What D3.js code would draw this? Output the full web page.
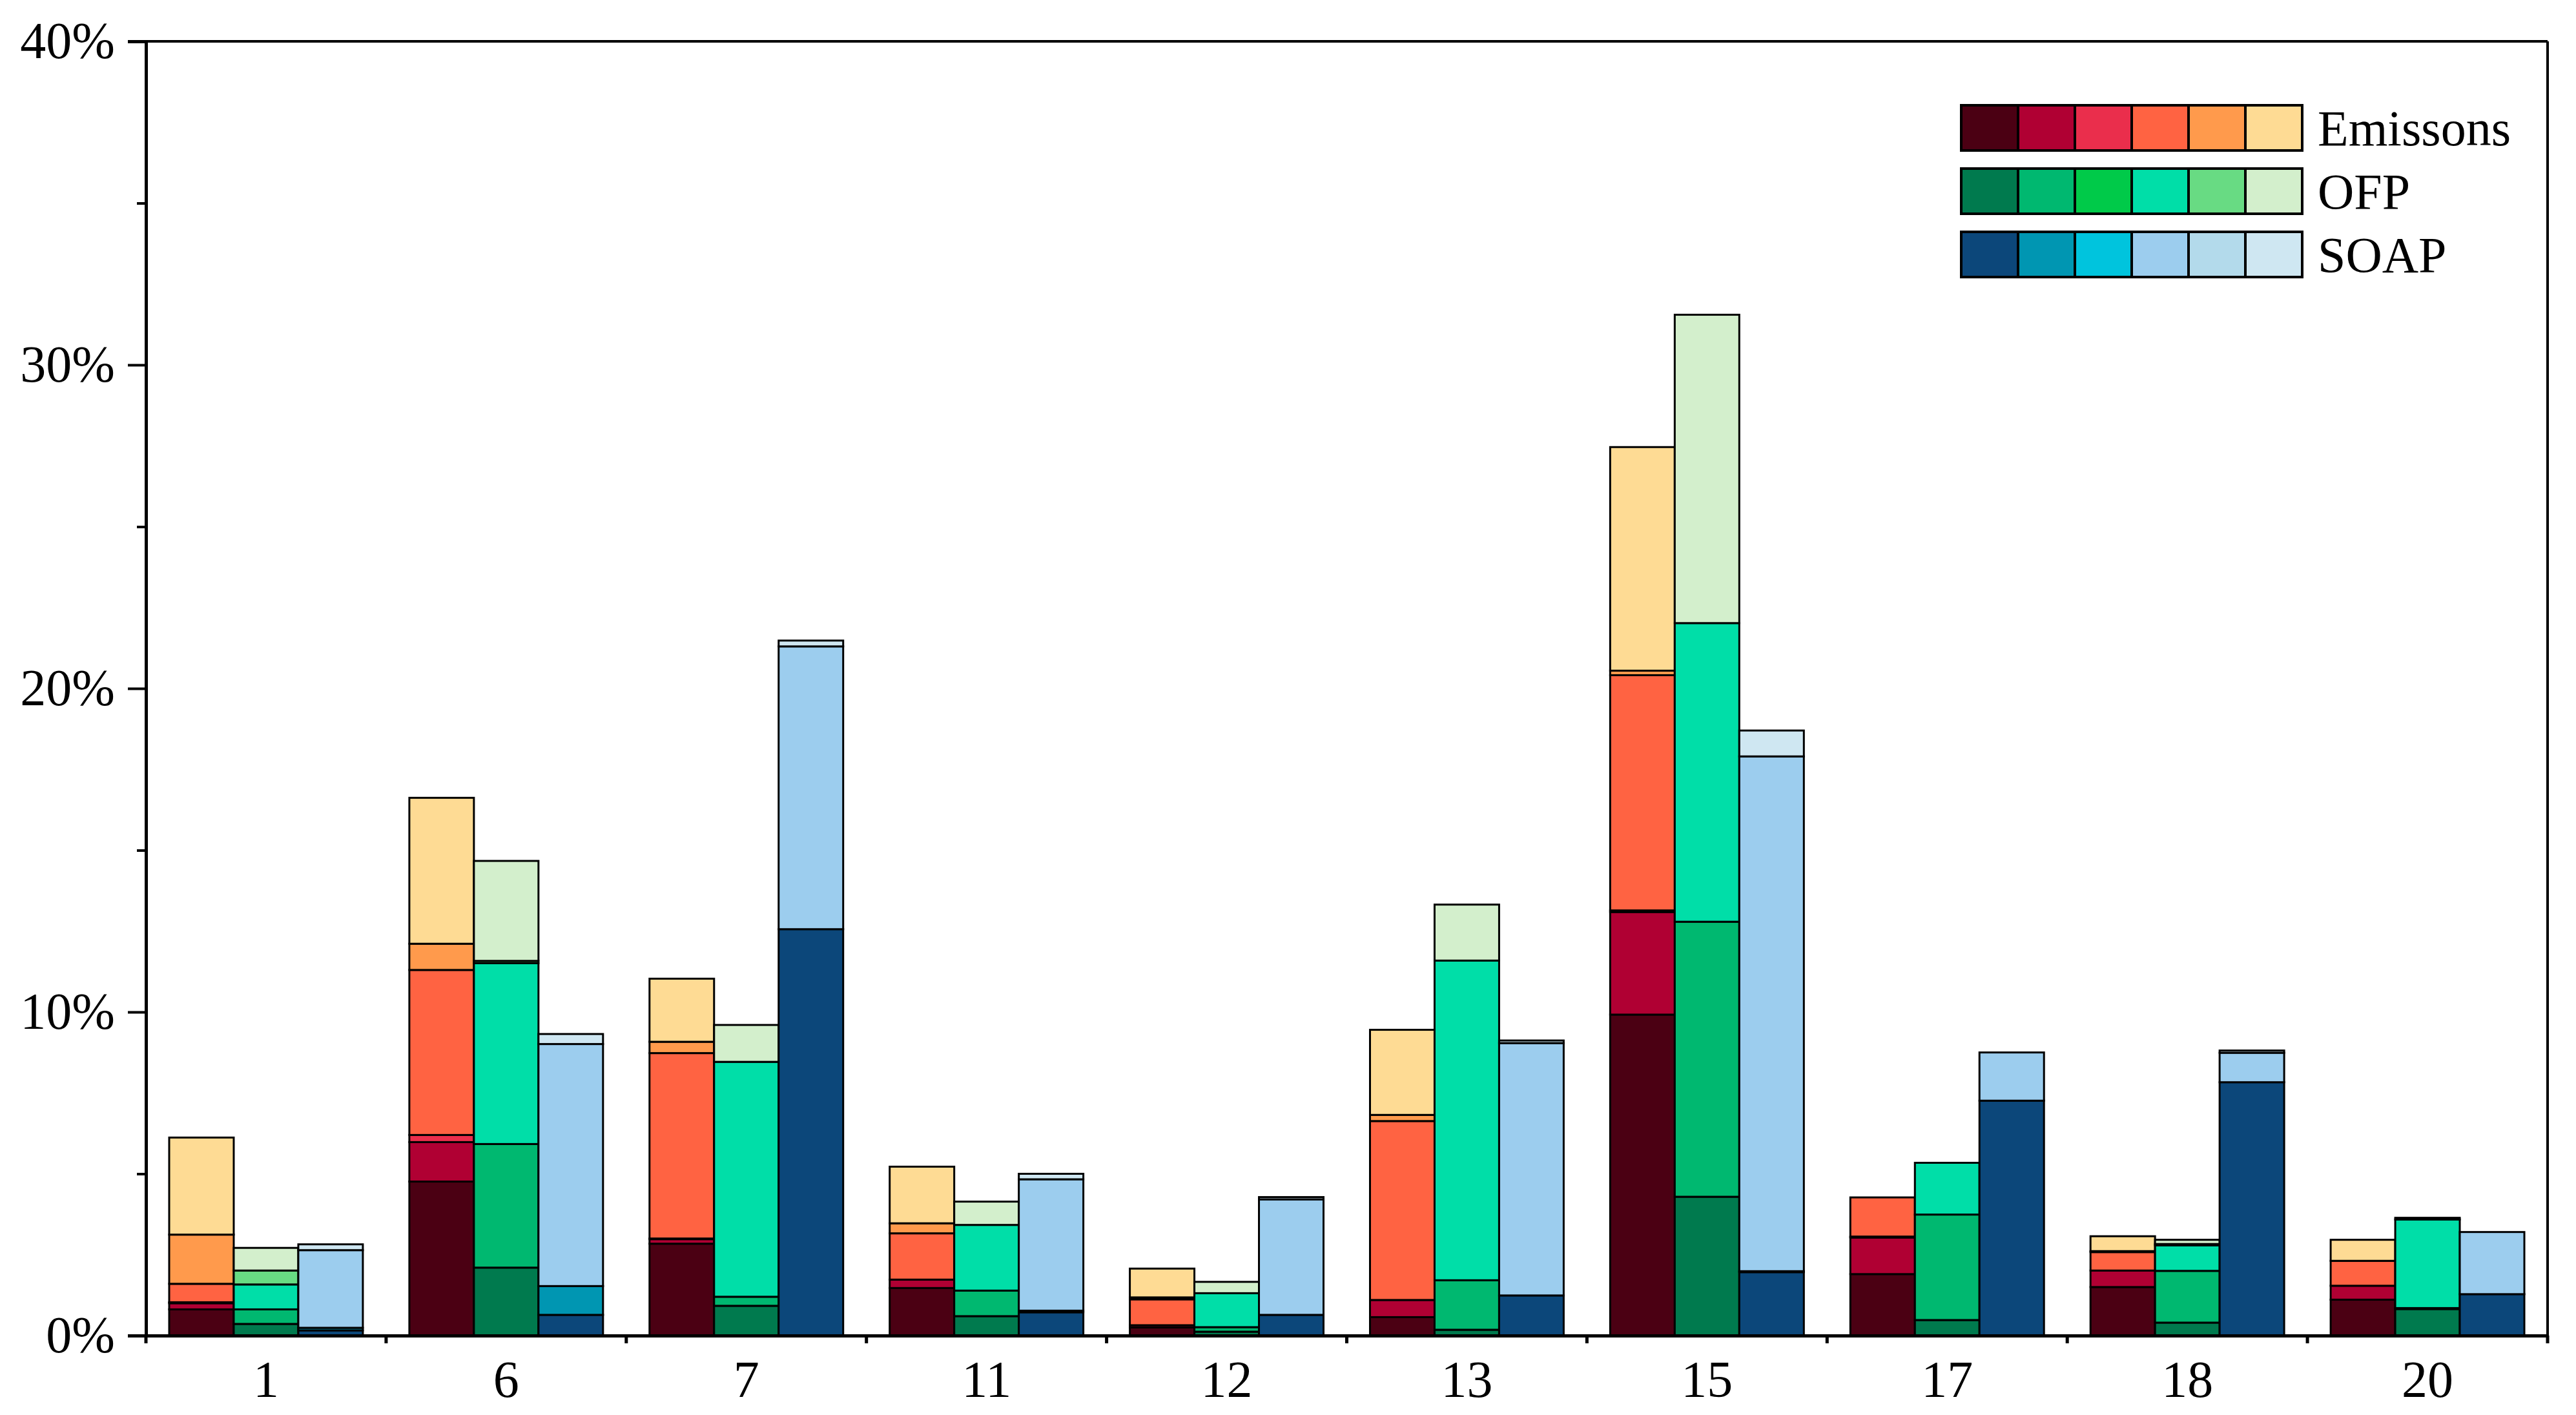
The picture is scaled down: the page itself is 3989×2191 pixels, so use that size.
<!DOCTYPE html>
<html>
<head>
<meta charset="utf-8">
<script src="https://cdn.jsdelivr.net/npm/d3@7"></script>
<style>
  html, body { margin: 0; padding: 0; background: #fff; }
  svg { display: block; }
  text { font-family: "Liberation Serif", "Times New Roman", serif; fill: #000; }
</style>
</head>
<body>
<svg id="chart" width="3989" height="2191"></svg>
<script>
// ---------------- DATA ----------------
const categories = ['1', '6', '7', '11', '12', '13', '15', '17', '18', '20'];
const groupNames = ['Emissons', 'OFP', 'SOAP'];

// Emissions: 6 stacked layers (bottom -> top), values in % per category
const emissions = [
  [0.81, 4.76, 2.84, 1.47, 0.25, 0.57, 9.92, 1.90, 1.50, 1.11],
  [0.19, 1.22, 0.14, 0.26, 0.07, 0.53, 3.17, 1.13, 0.51, 0.43],
  [0.03, 0.22, 0.02, 0.00, 0.00, 0.00, 0.05, 0.03, 0.00, 0.00],
  [0.57, 5.10, 5.73, 1.43, 0.80, 5.53, 7.27, 1.21, 0.57, 0.77],
  [1.52, 0.81, 0.35, 0.31, 0.06, 0.19, 0.14, 0.00, 0.03, 0.00],
  [3.00, 4.51, 1.95, 1.75, 0.89, 2.63, 6.91, 0.00, 0.46, 0.65]
];
// OFP: 6 stacked layers
const ofp = [
  [0.36, 2.10, 0.92, 0.60, 0.12, 0.18, 4.29, 0.48, 0.40, 0.82],
  [0.45, 3.82, 0.28, 0.79, 0.14, 1.53, 8.50, 3.26, 1.60, 0.03],
  [0.00, 0.00, 0.00, 0.00, 0.00, 0.00, 0.00, 0.00, 0.00, 0.00],
  [0.77, 5.59, 7.26, 2.03, 1.05, 9.88, 9.23, 1.60, 0.79, 2.74],
  [0.43, 0.07, 0.00, 0.00, 0.00, 0.00, 0.00, 0.00, 0.04, 0.00],
  [0.70, 3.09, 1.14, 0.72, 0.35, 1.73, 9.53, 0.00, 0.13, 0.05]
];
// SOAP: 6 stacked layers
const soap = [
  [0.16, 0.64, 12.56, 0.72, 0.64, 1.24, 1.96, 7.26, 7.83, 1.28],
  [0.08, 0.89, 0.00, 0.05, 0.00, 0.00, 0.03, 0.00, 0.00, 0.00],
  [0.00, 0.00, 0.00, 0.00, 0.00, 0.00, 0.00, 0.00, 0.00, 0.00],
  [2.40, 7.48, 8.74, 4.06, 3.57, 7.80, 15.91, 1.49, 0.91, 1.92],
  [0.00, 0.00, 0.00, 0.00, 0.00, 0.00, 0.00, 0.00, 0.00, 0.00],
  [0.18, 0.31, 0.18, 0.17, 0.07, 0.08, 0.80, 0.00, 0.07, 0.00]
];

const yTicksMajor = [0, 10, 20, 30, 40];
const yTicksMinor = [5, 15, 25, 35];

const emissionColors = ['#4b0013', '#b00033', '#ea2e4c', '#ff6342', '#ff9a4c', '#fedb94'];
const ofpColors      = ['#007a4e', '#00b870', '#00ca49', '#00dea8', '#68db83', '#d3efcc'];
const soapColors     = ['#0c477a', '#0096b2', '#00c4dd', '#9ccdee', '#b3daeb', '#cfe7f2'];

// ---------------- LAYOUT ----------------
const W = 3989, H = 2191;
const margin = { left: 226, right: 44, top: 64, bottom: 123 };
const plotBottom = H - margin.bottom;   // 2068
const plotRight = W - margin.right;     // 3945

const svg = d3.select('#chart');

const x = d3.scaleBand().domain(categories).range([margin.left, plotRight]).paddingInner(0).paddingOuter(0);
const x1 = d3.scaleBand().domain(groupNames).range([0, x.bandwidth()]).paddingInner(0).paddingOuter(0.36);
const y = d3.scaleLinear().domain([0, 40]).range([plotBottom, margin.top]);

const groups = [
  { name: 'Emissons', layers: emissions, colors: emissionColors },
  { name: 'OFP', layers: ofp, colors: ofpColors },
  { name: 'SOAP', layers: soap, colors: soapColors }
];

// Build stacked rect data
const rects = [];
groups.forEach(g => {
  categories.forEach((c, ci) => {
    let base = 0;
    g.layers.forEach((layer, li) => {
      const v = layer[ci];
      if (v > 0) {
        rects.push({ cat: c, group: g.name, y0: base, y1: base + v, color: g.colors[li] });
      }
      base += v;
    });
  });
});

svg.append('g').selectAll('rect').data(rects).join('rect')
  .attr('x', d => x(d.cat) + x1(d.group))
  .attr('width', x1.bandwidth())
  .attr('y', d => y(d.y1))
  .attr('height', d => y(d.y0) - y(d.y1))
  .attr('fill', d => d.color)
  .attr('stroke', '#000')
  .attr('stroke-width', 3);

// ---------------- AXES ----------------
// Frame top & right
svg.append('line').attr('x1', margin.left).attr('x2', plotRight).attr('y1', margin.top).attr('y2', margin.top)
  .attr('stroke', '#000').attr('stroke-width', 4);
svg.append('line').attr('x1', plotRight).attr('x2', plotRight).attr('y1', margin.top).attr('y2', plotBottom)
  .attr('stroke', '#000').attr('stroke-width', 4);

// Y axis
const yAxis = d3.axisLeft(y).tickValues(yTicksMajor).tickFormat(d => d + '%').tickSize(28).tickPadding(20);
const gy = svg.append('g').attr('transform', `translate(${margin.left},0)`).call(yAxis);
gy.select('.domain').attr('stroke-width', 5);
gy.selectAll('.tick line').attr('stroke-width', 4);
gy.selectAll('.tick text').attr('font-size', 80).style('font-family', '"Liberation Serif", serif');
const yAxisMinor = d3.axisLeft(y).tickValues(yTicksMinor).tickFormat('').tickSize(14);
const gym = svg.append('g').attr('transform', `translate(${margin.left},0)`).call(yAxisMinor);
gym.select('.domain').remove();
gym.selectAll('.tick line').attr('stroke-width', 4);

// X axis: labels at band centres, ticks at band boundaries
const xAxis = d3.axisBottom(x).tickSize(0).tickPadding(38);
const gx = svg.append('g').attr('transform', `translate(0,${plotBottom})`).call(xAxis);
gx.select('.domain').attr('stroke-width', 5);
gx.selectAll('.tick text').attr('font-size', 80).style('font-family', '"Liberation Serif", serif');
const boundaries = categories.map(c => x(c)).concat([x.range()[1]]);
svg.append('g').selectAll('line').data(boundaries).join('line')
  .attr('x1', d => d).attr('x2', d => d)
  .attr('y1', plotBottom).attr('y2', plotBottom + 12)
  .attr('stroke', '#000').attr('stroke-width', 5);

// ---------------- LEGEND ----------------
const legend = svg.append('g').attr('transform', 'translate(3037,163)');
const swW = 88, swH = 70, rowH = 98;
groups.forEach((g, gi) => {
  const row = legend.append('g').attr('transform', `translate(0,${gi * rowH})`);
  row.selectAll('rect').data(g.colors).join('rect')
    .attr('x', (d, i) => i * swW)
    .attr('y', 0)
    .attr('width', swW)
    .attr('height', swH)
    .attr('fill', d => d)
    .attr('stroke', '#000')
    .attr('stroke-width', 4);
  row.append('text')
    .attr('x', 6 * swW + 24)
    .attr('y', swH / 2)
    .attr('dominant-baseline', 'central')
    .attr('font-size', 78)
    .text(g.name);
});
</script>
</body>
</html>
